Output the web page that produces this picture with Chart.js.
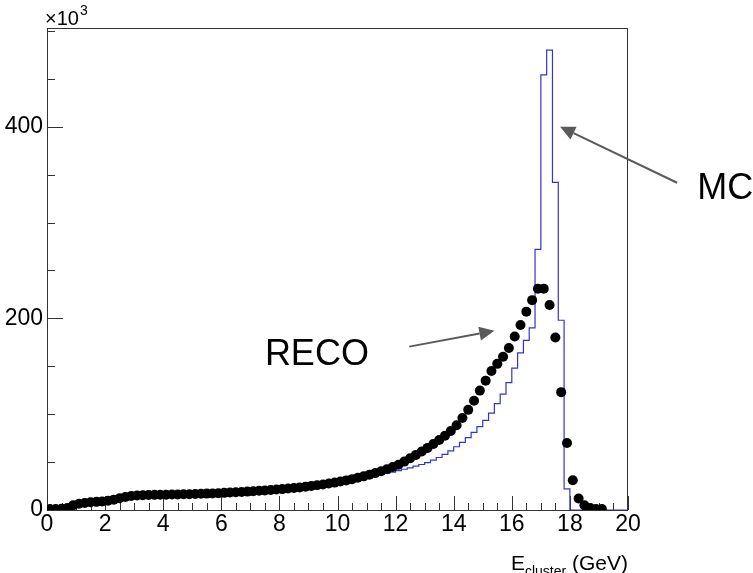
<!DOCTYPE html>
<html>
<head>
<meta charset="utf-8">
<script src="https://cdn.jsdelivr.net/npm/chart.js@4.4.1/dist/chart.umd.min.js"></script>
<style>
  body { margin: 0; background: #fff; }
  #wrap { width: 753px; height: 573px; }
</style>
</head>
<body>
<div id="wrap"><canvas id="myChart"></canvas></div>
<script>
// 100 bins of 0.2 GeV between 0 and 20 GeV, counts in units of 10^3
const binWidth = 0.2;

// reconstructed clusters (drawn as points at bin centres)
const recoCounts = [
  1, 1, 1.2, 2, 5, 6.5, 7.3, 8, 8.5, 9,
  9.7, 10.8, 12.2, 13.5, 14.6, 15.2, 15.5, 15.7, 15.8, 15.9,
  16, 16.1, 16.2, 16.4, 16.5, 16.7, 16.9, 17.1, 17.3, 17.6,
  17.9, 18.2, 18.5, 18.8, 19.2, 19.6, 20, 20.4, 20.8, 21.3,
  21.8, 22.4, 23, 23.6, 24.3, 25, 25.8, 26.7, 27.6, 28.6,
  29.7, 30.9, 32.2, 33.6, 35.1, 36.7, 38.5, 40.4, 42.5, 44.8,
  47.3, 50.5, 54, 57.5, 61, 64.8, 68.8, 73, 77.5, 82.5,
  88.5, 96, 104.5, 114, 124.6, 135, 145, 152.5, 160, 169,
  181, 193, 207, 219, 231, 231, 214, 180, 123, 70,
  31, 12, 5, 2, 1, 1, null, null, null, null
];

// simulated clusters (drawn as a histogram outline)
const mcCounts = [
  0.5, 0.8, 1, 1.5, 4, 5.5, 6.5, 7.2, 7.8, 8.3,
  9, 10, 11.3, 12.6, 13.6, 14.2, 14.6, 14.8, 15, 15.1,
  15.2, 15.3, 15.5, 15.6, 15.8, 16, 16.2, 16.4, 16.6, 16.9,
  17.2, 17.5, 17.8, 18.1, 18.5, 18.9, 19.3, 19.7, 20.1, 20.6,
  21.1, 21.7, 22.3, 22.9, 23.6, 24.3, 25.1, 25.9, 26.8, 27.7,
  28.7, 29.8, 31, 32.2, 33.5, 34.8, 36, 37.2, 38.4, 39.6,
  41, 42.5, 44, 45.7, 47.5, 49.5, 52, 54.8, 58, 61.8,
  66, 70.5, 75.5, 81, 87, 93.5, 101, 111, 121, 133,
  148, 164, 177, 190, 272, 454, 480, 342, 198, 22,
  0, 0, 0, 0, 0, 0, 0, 0, 0, 0
];

const xTicks = [0, 2, 4, 6, 8, 10, 12, 14, 16, 18, 20];
const yTicks = [0, 200, 400];

const FONT = '"Liberation Sans", Arial, Helvetica, sans-serif';

const recoPoints = recoCounts.map((v, i) => ({ x: (i + 0.5) * binWidth, y: v }));
const mcPoints = mcCounts.map((v, i) => ({ x: i * binWidth, y: v }));
mcPoints.push({ x: mcCounts.length * binWidth, y: mcCounts[mcCounts.length - 1] });

// frame box plus inward tick marks like a ROOT canvas
const frameTicks = {
  id: 'frameTicks',
  beforeDatasetsDraw(chart) {
    const { ctx, chartArea: a, scales: { x, y } } = chart;
    ctx.save();
    ctx.strokeStyle = '#333';
    ctx.lineWidth = 1;
    ctx.beginPath();
    for (let k = 0; k <= 40; k++) {
      const v = k * 0.5;
      const px = Math.round(x.getPixelForValue(v)) + 0.5;
      const len = k % 4 === 0 ? 14 : 7;
      ctx.moveTo(px, a.bottom);
      ctx.lineTo(px, a.bottom - len);
    }
    for (let k = 0; k <= 10; k++) {
      const v = k * 50;
      const py = Math.round(y.getPixelForValue(v)) + 0.5;
      const len = k % 4 === 0 ? 16 : 8;
      ctx.moveTo(a.left, py);
      ctx.lineTo(a.left + len, py);
    }
    ctx.stroke();
    ctx.strokeRect(Math.round(a.left) + 0.5, Math.round(a.top) + 0.5,
      Math.round(a.right - a.left) - 1, Math.round(a.bottom - a.top));
    ctx.restore();
  }
};

function arrow(ctx, x0, y0, x1, y1) {
  const ang = Math.atan2(y1 - y0, x1 - x0);
  const head = 15, half = 7;
  const bx = x1 - head * Math.cos(ang), by = y1 - head * Math.sin(ang);
  ctx.beginPath();
  ctx.moveTo(x0, y0);
  ctx.lineTo(bx, by);
  ctx.stroke();
  ctx.beginPath();
  ctx.moveTo(x1, y1);
  ctx.lineTo(bx + half * Math.sin(ang), by - half * Math.cos(ang));
  ctx.lineTo(bx - half * Math.sin(ang), by + half * Math.cos(ang));
  ctx.closePath();
  ctx.fill();
}

// axis exponent, axis title and the RECO / MC labels
const annotations = {
  id: 'annotations',
  afterDraw(chart) {
    const { ctx, chartArea: a, scales: { x, y } } = chart;
    ctx.save();
    ctx.fillStyle = '#000';
    ctx.textBaseline = 'alphabetic';
    ctx.textAlign = 'left';

    // x10^3
    ctx.font = '20px ' + FONT;
    ctx.fillText('\u00d710', a.left - 2, 25);
    const w = ctx.measureText('\u00d710').width;
    ctx.font = '14px ' + FONT;
    ctx.fillText('3', a.left - 2 + w + 1, 15);

    // E_cluster (GeV), right aligned to the frame
    const big = '21px ' + FONT, small = '14px ' + FONT;
    ctx.font = big;
    const wE = ctx.measureText('E').width;
    const wG = ctx.measureText(' (GeV)').width;
    ctx.font = small;
    const wS = ctx.measureText('cluster').width;
    let tx = a.right - (wE + wS + wG);
    ctx.font = big;
    ctx.fillText('E', tx, 570);
    ctx.font = small;
    ctx.fillText('cluster', tx + wE, 576);
    ctx.font = big;
    ctx.fillText(' (GeV)', tx + wE + wS, 570);

    // labels with arrows
    ctx.font = '36px ' + FONT;
    ctx.fillText('RECO', x.getPixelForValue(7.5), y.getPixelForValue(151));
    ctx.fillText('MC', x.getPixelForValue(22.38), y.getPixelForValue(325));

    ctx.strokeStyle = '#5a5a5a';
    ctx.fillStyle = '#5a5a5a';
    ctx.lineWidth = 2;
    arrow(ctx, x.getPixelForValue(12.47), y.getPixelForValue(170.5),
      x.getPixelForValue(15.4), y.getPixelForValue(187));
    arrow(ctx, x.getPixelForValue(21.69), y.getPixelForValue(341.5),
      x.getPixelForValue(17.66), y.getPixelForValue(400));
    ctx.restore();
  }
};

const myChart = new Chart('myChart', {
  type: 'line',
  data: {
    datasets: [{
      label: 'RECO',
      data: recoPoints,
      showLine: false,
      pointRadius: 5,
      pointBackgroundColor: '#000',
      pointBorderWidth: 0,
      spanGaps: false
    }, {
      label: 'MC',
      data: mcPoints,
      stepped: true,
      borderColor: '#3434cc',
      borderWidth: 1.2,
      pointRadius: 0,
      fill: false
    }]
  },
  options: {
    responsive: true,
    maintainAspectRatio: false,
    animation: false,
    events: [],
    layout: { padding: { left: 0, right: 125, top: 28, bottom: 0 } },
    plugins: { legend: { display: false }, tooltip: { enabled: false } },
    scales: {
      x: {
        type: 'linear',
        min: 0,
        max: 20,
        grid: { display: false, drawTicks: false },
        border: { display: false },
        afterBuildTicks: s => { s.ticks = xTicks.map(v => ({ value: v })); },
        afterFit: s => { s.height = 63; },
        ticks: { color: '#000', padding: 1, maxRotation: 0, font: { family: FONT, size: 23 } }
      },
      y: {
        type: 'linear',
        min: 0,
        max: 503,
        grid: { display: false, drawTicks: false },
        border: { display: false },
        afterBuildTicks: s => { s.ticks = yTicks.map(v => ({ value: v })); },
        afterFit: s => { s.width = 47; },
        ticks: { color: '#000', padding: 4, font: { family: FONT, size: 23 } }
      }
    }
  },
  plugins: [frameTicks, annotations]
});
</script>
</body>
</html>
